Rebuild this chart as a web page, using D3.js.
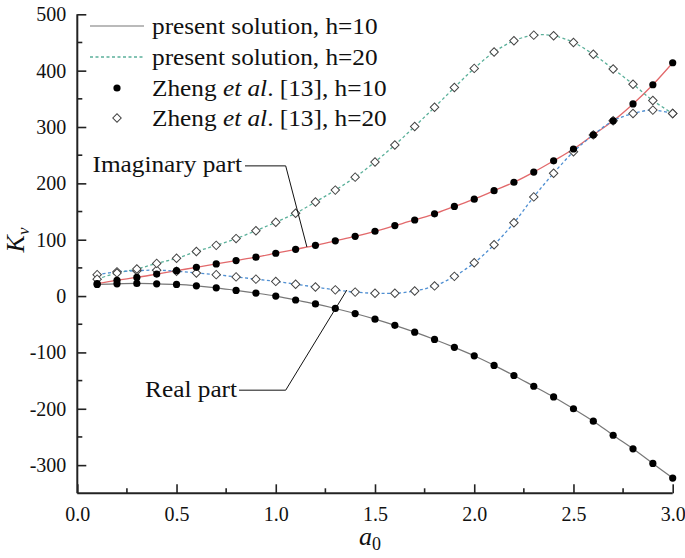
<!DOCTYPE html>
<html>
<head>
<meta charset="utf-8">
<script src="https://cdn.jsdelivr.net/npm/d3@7"></script>
<style>
  body { margin: 0; background: #fff; }
  svg text { font-family: "Liberation Serif", "Times New Roman", serif; fill: #111; }
</style>
</head>
<body>
<div id="chart"></div>
<script>
// values (a0 = 0.1 ... 3.0)
const a0 = [0.1, 0.2, 0.3, 0.4, 0.5, 0.6, 0.7, 0.8, 0.9, 1.0,
            1.1, 1.2, 1.3, 1.4, 1.5, 1.6, 1.7, 1.8, 1.9, 2.0,
            2.1, 2.2, 2.3, 2.4, 2.5, 2.6, 2.7, 2.8, 2.9, 3.0];
const realH10 = [20.6, 21.8, 22.4, 21.8, 20.6, 18.2, 14.7, 10, 5.3, 0,
                 -7, -14, -22, -31, -41, -52, -64, -77, -91, -106,
                 -123, -141, -160, -179, -200, -222, -247, -271, -297, -323];
const imagH10 = [22, 28, 33, 39, 45, 51, 57, 63, 69, 76,
                 83, 90, 98, 106, 115, 125, 135, 146, 159, 172,
                 187, 202, 220, 240, 261, 286, 311, 341, 375, 414];
const realH20 = [38, 43, 45, 46, 44, 41, 38, 34, 30, 26,
                 21, 16, 11, 7, 5, 5, 9, 18, 35, 59,
                 91, 130, 176, 218, 256, 286, 311, 324, 330, 324];
const imagH20 = [30, 41, 48, 58, 67, 79, 90, 102, 116, 131,
                 147, 167, 188, 211, 238, 268, 301, 335, 370, 404,
                 433, 453, 463, 462, 450, 429, 403, 376, 347, 324];

const xTicks = [0, 0.5, 1.0, 1.5, 2.0, 2.5, 3.0];
const xMinor = [0.25, 0.75, 1.25, 1.75, 2.25, 2.75];
const yTicks = [-300, -200, -100, 0, 100, 200, 300, 400, 500];
const yMinor = [-250, -150, -50, 50, 150, 250, 350, 450];

const legendLabels = ['present solution, h=10', 'present solution, h=20', 'h=10', 'h=20'];

const width = 685, height = 558;
const margin = { top: 14.3, right: 12.3, bottom: 64.7, left: 77.3 };
const serif = '"Liberation Serif", "Times New Roman", serif';

const svg = d3.select('#chart').append('svg')
  .attr('width', width)
  .attr('height', height)
  .attr('font-family', serif);

const x = d3.scaleLinear().domain([0, 3]).range([margin.left, width - margin.right]);
const y = d3.scaleLinear().domain([-350, 500]).range([height - margin.bottom, margin.top]);

// axes (ticks point inward)
const axisColor = '#222';
const xAxis = svg.append('g').attr('transform', `translate(0,${y(-350)})`);
xAxis.call(d3.axisBottom(x).tickValues(xTicks).tickSize(-9).tickFormat(d3.format('.1f')).tickPadding(14));
xAxis.append('g').selectAll('line').data(xMinor).enter().append('line')
  .attr('x1', d => x(d)).attr('x2', d => x(d)).attr('y1', 0).attr('y2', -5);
xAxis.selectAll('line').attr('stroke', axisColor).attr('stroke-width', 1.6);
xAxis.select('.domain').attr('stroke', axisColor).attr('stroke-width', 2).attr('d', `M${x(0)},0H${x(3)}`);

const yAxis = svg.append('g').attr('transform', `translate(${x(0)},0)`);
yAxis.call(d3.axisLeft(y).tickValues(yTicks).tickSize(-9).tickPadding(11).tickFormat(d => String(d)));
yAxis.append('g').selectAll('line').data(yMinor).enter().append('line')
  .attr('y1', d => y(d)).attr('y2', d => y(d)).attr('x1', 0).attr('x2', 5);
yAxis.selectAll('line').attr('stroke', axisColor).attr('stroke-width', 1.6);
yAxis.select('.domain').attr('stroke', axisColor).attr('stroke-width', 2).attr('d', `M0,${y(500)}V${y(-350)}`);

[xAxis, yAxis].forEach(g => {
  g.attr('font-family', null).attr('font-size', null);
  g.selectAll('text').style('font-family', serif).style('font-size', '20px').attr('fill', '#111');
});

// axis titles
svg.append('text')
  .attr('x', 370).attr('y', 545)
  .attr('text-anchor', 'middle')
  .style('font-size', '26px').style('font-style', 'italic')
  .text('a')
  .append('tspan').attr('dy', 5).style('font-size', '18px').style('font-style', 'normal').text('0');

svg.append('text')
  .attr('transform', 'translate(24,240) rotate(-90)')
  .attr('text-anchor', 'middle')
  .style('font-size', '26px').style('font-style', 'italic')
  .text('K')
  .append('tspan').attr('dy', 5).style('font-size', '17px').text('v');

// curves
const line = vals => d3.line()
  .x((d, i) => x(a0[i]))
  .y(d => y(d))
  .curve(d3.curveCatmullRom.alpha(0.5))(vals);

svg.append('path').attr('d', line(realH10)).attr('fill', 'none').attr('stroke', '#777').attr('stroke-width', 1.2);
svg.append('path').attr('d', line(imagH10)).attr('fill', 'none').attr('stroke', '#e2696b').attr('stroke-width', 1.3);
svg.append('path').attr('d', line(imagH20)).attr('fill', 'none').attr('stroke', '#5bb09a').attr('stroke-width', 1.3).attr('stroke-dasharray', '3,2.5');
svg.append('path').attr('d', line(realH20)).attr('fill', 'none').attr('stroke', '#4f8fd2').attr('stroke-width', 1.3).attr('stroke-dasharray', '3,2.5');

// markers: open diamonds (h=20) under filled dots (h=10)
const diamond = d3.symbol().type(d3.symbolSquare).size(36);
[realH20, imagH20].forEach(vals => {
  svg.append('g').selectAll('path').data(vals).enter().append('path')
    .attr('d', diamond)
    .attr('transform', (d, i) => `translate(${x(a0[i])},${y(d)}) rotate(45)`)
    .attr('fill', '#fff').attr('stroke', '#444').attr('stroke-width', 1);
});
[realH10, imagH10].forEach(vals => {
  svg.append('g').selectAll('circle').data(vals).enter().append('circle')
    .attr('cx', (d, i) => x(a0[i]))
    .attr('cy', d => y(d))
    .attr('r', 3.6)
    .attr('fill', '#000');
});

// annotations with leader lines
const stretch = 1.1;
const label = (txt, ax, ay) => svg.append('text')
  .attr('transform', `translate(${x(ax)},${y(ay)}) scale(${stretch},1)`)
  .attr('text-anchor', 'end')
  .style('font-size', '23px').text(txt);
const leader = d3.line().x(d => x(d[0])).y(d => y(d[1]));
label('Imaginary part', 0.83, 220);
svg.append('path').attr('d', leader([[0.845, 231], [1.05, 231], [1.157, 87]]))
  .attr('fill', 'none').attr('stroke', '#111').attr('stroke-width', 1);
label('Real part', 0.805, -179);
svg.append('path').attr('d', leader([[0.815, -167], [1.05, -167], [1.358, 10.6]]))
  .attr('fill', 'none').attr('stroke', '#111').attr('stroke-width', 1);

// legend
const legend = svg.append('g');
const rowY = [26, 57, 88, 118];
legend.append('line').attr('x1', 90).attr('x2', 144).attr('y1', rowY[0]).attr('y2', rowY[0])
  .attr('stroke', '#777').attr('stroke-width', 1.2);
legend.append('line').attr('x1', 90).attr('x2', 144).attr('y1', rowY[1]).attr('y2', rowY[1])
  .attr('stroke', '#5bb09a').attr('stroke-width', 1.3).attr('stroke-dasharray', '3,2.5');
legend.append('circle').attr('cx', 117).attr('cy', rowY[2]).attr('r', 3.6).attr('fill', '#000');
legend.append('path').attr('d', diamond).attr('transform', `translate(117,${rowY[3]}) rotate(45)`)
  .attr('fill', '#fff').attr('stroke', '#444').attr('stroke-width', 1);

legendLabels.forEach((lab, i) => {
  const t = legend.append('text')
    .attr('transform', `translate(152,${rowY[i] + 8}) scale(${stretch},1)`)
    .style('font-size', '23px');
  if (i < 2) {
    t.text(lab);
  } else {
    t.append('tspan').text('Zheng ');
    t.append('tspan').style('font-style', 'italic').text('et al');
    t.append('tspan').text('. [13], ' + lab);
  }
});
</script>
</body>
</html>
